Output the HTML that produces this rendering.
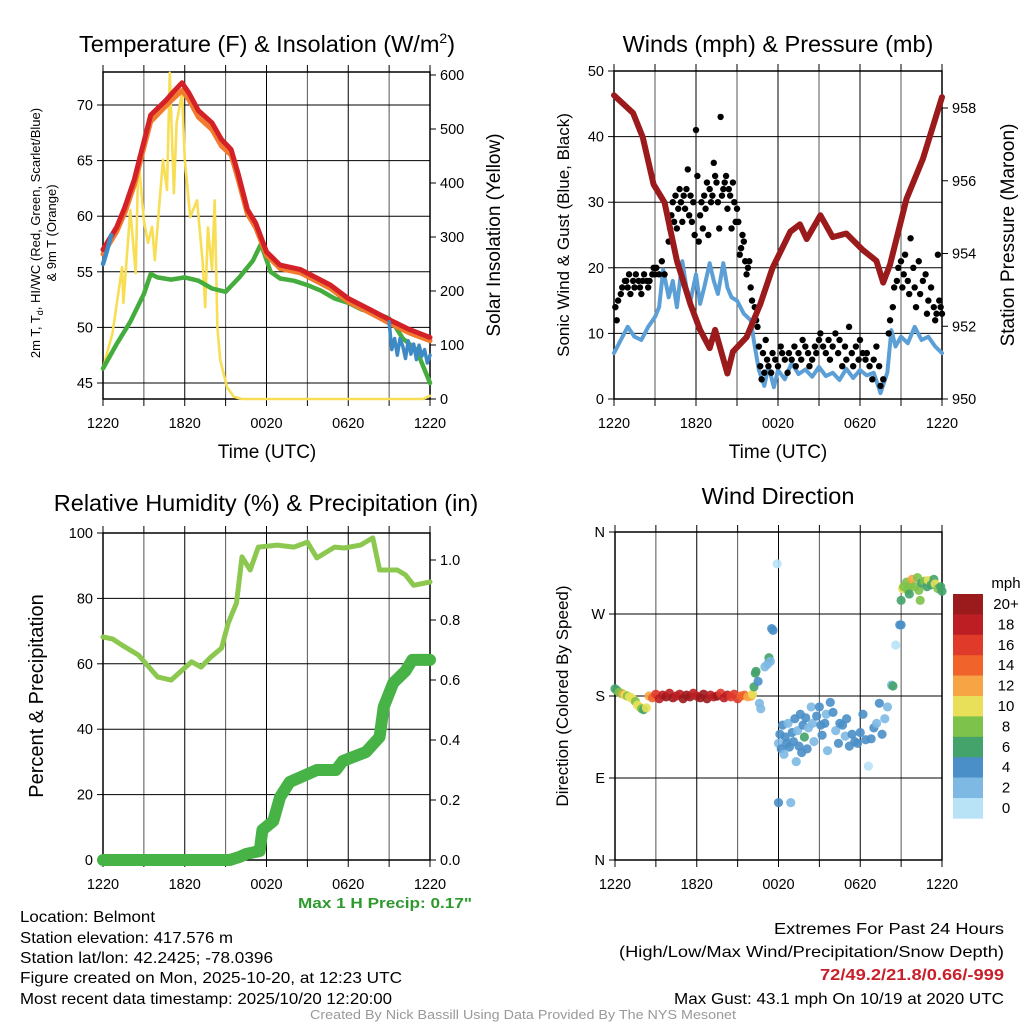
<!DOCTYPE html>
<html><head><meta charset="utf-8">
<style>
html,body{margin:0;padding:0;background:#fff;}
svg{display:block;font-family:"Liberation Sans",Arial,sans-serif;}
</style></head>
<body>
<svg id="chart" width="1024" height="1024" viewBox="0 0 1024 1024" xmlns="http://www.w3.org/2000/svg">
<rect x="0" y="0" width="1024" height="1024" fill="#fff"/>
<text x="267" y="52" font-size="23.5" text-anchor="middle">Temperature (F) &amp; Insolation (W/m<tspan dy="-9" font-size="14">2</tspan><tspan dy="9">)</tspan></text>
<text x="778" y="52" font-size="23.5" text-anchor="middle">Winds (mph) &amp; Pressure (mb)</text>
<text x="266" y="511" font-size="23.5" text-anchor="middle">Relative Humidity (%) &amp; Precipitation (in)</text>
<text x="778" y="504" font-size="23.5" text-anchor="middle">Wind Direction</text>
<g id="layer"></g>
<text x="385" y="908" font-size="15" font-weight="bold" fill="#2e9a2e" text-anchor="middle" textLength="174" lengthAdjust="spacingAndGlyphs">Max 1 H Precip: 0.17"</text>
<g font-size="16">
<text x="20" y="922" textLength="135" lengthAdjust="spacingAndGlyphs">Location: Belmont</text>
<text x="20" y="943" textLength="213" lengthAdjust="spacingAndGlyphs">Station elevation: 417.576 m</text>
<text x="20" y="963" textLength="253" lengthAdjust="spacingAndGlyphs">Station lat/lon: 42.2425; -78.0396</text>
<text x="20" y="983" textLength="382" lengthAdjust="spacingAndGlyphs">Figure created on Mon, 2025-10-20, at 12:23 UTC</text>
<text x="20" y="1004" textLength="372" lengthAdjust="spacingAndGlyphs">Most recent data timestamp: 2025/10/20 12:20:00</text>
</g>
<g font-size="16" text-anchor="end">
<text x="1004" y="934" textLength="230" lengthAdjust="spacingAndGlyphs">Extremes For Past 24 Hours</text>
<text x="1004" y="957" textLength="385" lengthAdjust="spacingAndGlyphs">(High/Low/Max Wind/Precipitation/Snow Depth)</text>
<text x="1004" y="980" fill="#c8202a" font-weight="bold" textLength="184" lengthAdjust="spacingAndGlyphs">72/49.2/21.8/0.66/-999</text>
<text x="1004" y="1004" textLength="330" lengthAdjust="spacingAndGlyphs">Max Gust: 43.1 mph On 10/19 at 2020 UTC</text>
</g>
<text x="523" y="1019" font-size="13" fill="#999" text-anchor="middle" textLength="426" lengthAdjust="spacingAndGlyphs">Created By Nick Bassill Using Data Provided By The NYS Mesonet</text>
</svg>
<script>
// ---- data (hours since 12:20 UTC) ----
const xTickLabels = ["1220","1820","0020","0620","1220"];
const tempHours = [0,1,1.6,2.3,2.9,3.5,4.6,5.1,5.8,6.3,7,8,8.7,9.4,9.9,10.6,11.2,12,13,14.5,16.7,18,19.6,21,22.5,24];
const tempRed   = [57,59,60.8,63.3,66.2,69.1,70.4,71.1,72,71.1,69.5,68.4,66.9,66,63.9,60.6,59.4,56.8,55.6,55.2,53.8,52.6,51.6,50.7,49.8,49.1];
const tempOrange= [56.6,58.6,60.3,62.8,65.7,68.5,69.9,70.5,71.3,70.5,68.9,67.8,66.3,65.5,63.4,60.2,59.0,56.5,55.3,54.9,53.5,52.3,51.3,50.4,49.5,48.8];
const dewHours = [0,1,2,3,3.5,4,5,6,7,8,9,10,11,11.6,12.3,13,14,15,16,17,18,19,20,21,21.5,22,23,24];
const dewGreen = [46.3,48.5,50.5,53,54.8,54.5,54.3,54.5,54.2,53.5,53.2,54.5,56,57.5,55,54.4,54.2,53.8,53.3,52.6,52.2,51.6,51.3,50.8,50,49,48,45];
const chillHoursA = [0,0.2,0.4,0.6];
const chillA = [55.7,56.5,57.4,58.3];
const chillHoursB = [21,21.2,21.4,21.6,21.8,22,22.2,22.4,22.6,22.8,23,23.2,23.4,23.6,23.8,24];
const chillB = [50.5,48,49,47.5,49,48.3,47.2,48.8,47.6,48.5,47.1,48.4,47.4,48,46.8,47.5];
const solarHours = [0,0.7,1.4,1.5,2,2.4,2.6,3,3.3,3.6,3.8,4.4,4.7,4.9,5.2,5.4,5.8,6,6.4,6.9,7.3,7.5,7.7,8,8.2,8.4,8.6,9.1,9.6,10.2,11,20,23.5,24];
const solarVals  = [57,122,244,178,350,233,448,331,289,319,257,443,387,604,381,511,567,443,337,368,257,170,318,239,368,133,72,22,4,0,0,0,0,6];

const presHours = [0,1.4,2.1,2.9,3.7,4.6,5.6,6.3,7,7.4,8.3,8.7,9.7,10.7,11.6,12.9,13.6,14.1,15.1,16,17,18.2,19.2,19.7,20.2,21.4,22.6,24];
const presVals  = [958.35,957.86,957.2,955.9,955.4,953.8,952.6,951.9,951.4,951.9,950.7,951.3,951.7,952.6,953.6,954.6,954.8,954.4,955.05,954.45,954.55,954.1,953.8,953.2,953.7,955.5,956.6,958.3];
const sonicHours = [0,0.5,1,1.5,2,2.5,3,3.3,3.6,4,4.3,4.6,5,5.3,5.6,6,6.3,6.6,7,7.3,7.6,8,8.3,8.6,9,9.5,10,10.3,10.6,11,11.3,11.7,12,12.5,13,13.5,14,14.5,15,15.5,16,16.5,17,17.5,18,18.5,19,19.5,20,20.3,20.6,21,21.5,22,22.5,23,23.5,24];
const sonicVals  = [7,9,11,9.5,9,11,12.5,14,19.7,15.5,18,14,21,17,15,19,14.5,17,20.7,18,16,20.7,17,15.5,15,13,12,8,4.4,2,5,1.8,4.4,3,5.5,3.8,4.5,3.4,4.9,3.5,4,2.9,4.6,3.2,4.4,3.6,4,0.9,4,10.5,8,9.5,8.5,11,9,9.5,8,7];
const gustHours = [0.1,0.2,0.3,0.5,0.6,0.8,0.9,1.0,1.1,1.2,1.4,1.5,1.6,1.8,1.9,2.0,2.1,2.2,2.4,2.5,2.6,2.8,2.9,3.0,3.1,3.3,3.5,3.7,4.0,4.1,4.2,4.3,4.4,4.5,4.6,4.7,4.8,4.9,5.0,5.1,5.2,5.3,5.4,5.5,5.6,5.7,5.8,5.9,6.0,6.1,6.2,6.3,6.4,6.5,6.6,6.7,6.8,6.9,7.0,7.1,7.2,7.3,7.4,7.5,7.6,7.7,7.8,7.9,8.0,8.1,8.2,8.3,8.4,8.5,8.6,8.7,8.8,8.9,9.0,9.1,9.2,9.3,9.4,9.5,9.6,9.7,9.8,9.9,10.0,10.1,10.3,10.4,10.5,10.6,10.7,10.8,10.9,11.0,11.1,11.2,11.3,11.5,11.6,11.8,12.0,12.2,12.3,12.5,12.7,12.8,13.0,13.2,13.3,13.5,13.7,13.8,14.0,14.2,14.3,14.5,14.7,14.8,15.0,15.1,15.3,15.5,15.7,15.8,16.0,16.2,16.4,16.5,16.7,16.9,17.0,17.2,17.4,17.5,17.7,17.9,18.0,18.2,18.4,18.5,18.7,18.9,19.0,19.2,19.4,19.5,19.7,20.1,20.2,20.4,20.5,20.7,20.8,21.0,21.1,21.2,21.3,21.5,21.6,21.7,21.9,22.0,22.1,22.3,22.4,22.6,22.8,22.9,23.0,23.2,23.4,23.5,23.6,23.7,23.8,23.9,24.0];
const gustVals  = [14,12,15,16,17,18,18,17,19,16,18,17,19,18,17,16,18,19,18,17,18,19,20,19,20,19,21,19,24,26,28,30,27,31,26,29,32,30,27,31,29,32,35,28,31,27,30,25,41,34,24,28,30,26,31,29,33,25,32,30,31,36,34,33,30,26,43,31,32,33,34,29,32,31,26,33,30,27,29,27,22,23,25,24,21,19,20,21,17,15,14,12,11,8,5,3,7,4,9,6,5,4,7,6,5,8,7,6,4,7,6,8,5,7,6,9,8,7,5,6,8,7,9,10,8,7,9,6,8,10,7,9,5,8,6,11,7,5,8,6,9,7,6,7,5,3,6,8,5,2,3,10,12,14,17,18,20,21,17,19,22,18,16,24.5,20,17,14,21,16,18,19,13,15,17,14,12,13,22,15,14,13];

const rhHours = [0,0.7,1.4,2.6,4,5,6.5,7.2,7.9,8.7,9.2,9.8,10.2,10.8,11.4,12.8,14,15,15.7,17,17.7,18.9,19.8,20.3,21.6,22.2,22.8,24];
const rhVals  = [68.2,67.6,65.7,62.7,56,55,60.6,59,62,64.8,72.5,78.6,92.7,88.7,95.7,96.3,95.7,97.2,92.4,95.7,95.4,96.3,98.5,88.7,88.7,87.2,84,85];
const precipHours = [0,9.3,10,10.5,11.5,11.7,12.5,13,13.7,15.7,17.1,17.6,19.3,20.3,20.6,21.3,22.2,22.7,24];
const precipVals  = [0,0,0.01,0.02,0.03,0.10,0.13,0.21,0.26,0.30,0.30,0.33,0.36,0.41,0.51,0.59,0.63,0.667,0.667];

const dirHours = [0,0.15,0.3,0.45,0.6,0.75,0.9,1.05,1.2,1.35,1.5,1.65,1.8,1.95,2.1,2.3,
 2.5,2.75,3,3.25,3.5,3.75,4,4.25,4.5,4.75,5,5.25,5.5,5.75,6,6.25,6.5,6.75,7,7.25,7.5,7.75,8,8.25,8.5,8.75,9,9.25,9.5,9.75,10,
 10.1,10.2,10.3,10.35,10.5,10.6,10.7,11.0,11.2,11.3,11.4,11.5,11.6,11.9,
 12.0,12.0,12.1,12.2,12.3,12.4,12.5,12.6,12.7,12.8,12.9,13.0,13.1,13.2,13.3,13.4,13.5,13.6,13.7,13.8,13.9,14.0,14.1,14.2,14.4,14.5,14.6,14.8,15.0,15.1,15.2,15.4,15.5,15.6,15.8,16.0,16.2,16.4,16.5,16.7,16.9,17.0,17.2,17.4,17.6,17.8,18.0,18.2,18.4,18.6,18.8,19.0,19.2,19.4,19.6,19.8,20.0,
 20.3,20.4,20.6,20.9,21.0,
 21.0,21.1,21.2,21.4,21.5,21.6,21.7,21.8,22.0,22.2,22.3,22.4,22.5,22.7,22.9,23.0,23.2,23.4,23.5,23.7,23.9,24.0];
const dirVals = [188,186,184,183,182,181,180,179,178,176,174,170,168,166,165,167,
 180,178,182,177,181,179,183,178,180,182,177,181,179,183,180,178,182,177,181,179,180,183,178,181,179,182,177,180,181,179,180,
 182,190,205,207,196,172,166,212,215,222,218,254,252,325,
 128,63,138,122,148,116,135,128,150,124,63,140,130,155,108,142,125,160,118,148,135,156,122,145,168,150,130,158,168,148,137,150,160,120,173,162,142,128,150,148,136,155,125,138,130,128,140,160,132,103,133,145,150,172,138,155,168,
 192,191,236,258,258,
 285,298,300,305,296,292,302,308,300,310,296,285,304,306,300,307,302,308,303,298,300,295];
const dirSpeeds = [6,7,9,8,12,10,9,11,10,10,9,10,10,9,7,11,
 13,14,17,19,18,20,19,21,18,19,20,21,22,19,18,20,21,22,19,18,20,17,19,18,17,16,17,15,14,13,13,
 10,7,6,6,4,2,2,2,3,6,2,4,4,0,
 2,4,4,4,4,2,4,4,2,4,2,4,4,4,2,2,4,4,4,4,6,4,4,2,2,2,2,4,4,4,4,4,2,2,4,4,2,4,4,4,2,4,4,4,4,4,4,4,4,0,4,4,2,4,4,2,2,
 2,6,0,4,4,
 6,10,8,8,8,6,8,12,8,8,8,8,6,8,6,10,6,6,10,8,6,6];
const speedLabels = ["20+","18","16","14","12","10","8","6","4","2","0"];
const speedColors = ["#9b1a1c","#bd1e24","#e03a2b","#f0632a","#f7a544","#e8e058","#7dc24a","#44a36a","#4a8fc8","#7db9e3","#b8e3f7"];

// ---- helpers ----
const NS="http://www.w3.org/2000/svg";
const layer=document.getElementById('layer');
function mk(tag,attrs,parent){const e=document.createElementNS(NS,tag);for(const k in attrs)e.setAttribute(k,attrs[k]);(parent||layer).appendChild(e);return e;}
function lin(d0,d1,r0,r1){return v=>r0+(v-d0)*(r1-r0)/(d1-d0);}

function panelFrame(P,name){
  const g=mk('g',{});
  
  
  for(let h=0;h<=24;h+=3){
    const x=P.sx(h);
    const l=mk('line',{x1:x,y1:P.top,x2:x,y2:P.bot,stroke:(h%6===0)?'#000':'#555','stroke-width':1},g);
    
    
    mk('line',{x1:x,y1:P.bot,x2:x,y2:P.bot+7,stroke:'#000','stroke-width':1},g);
    mk('line',{x1:x,y1:P.top,x2:x,y2:P.top-7,stroke:'#000','stroke-width':1},g);
  }
  for(let i=0;i<xTickLabels.length;i++){
    const t=mk('text',{x:P.sx(i*6),y:P.bot+29,'font-size':14.5,'text-anchor':'middle'},g);
    
    
    t.textContent=xTickLabels[i];
  }
  return g;
}
function frameBox(P,g){
  mk('rect',{x:P.left,y:P.top,width:P.right-P.left,height:P.bot-P.top,fill:'none',stroke:'#000','stroke-width':1.5},g);
}
function hgrid(P,g,vals,scale){
  vals.forEach((v)=>{
    const y=scale(v);
    if(y>=P.top-0.5&&y<=P.bot+0.5){
      const l=mk('line',{x1:P.left,y1:y,x2:P.right,y2:y,stroke:'#000','stroke-width':1},g);
      
      
    }
  });
}
function ticksY(P,g,vals,scale,labels,side,name){
  vals.forEach((v,i)=>{
    const y=scale(v);
    if(side==='left'){
      mk('line',{x1:P.left-6,y1:y,x2:P.left,y2:y,stroke:'#000'},g);
    } else {
      mk('line',{x1:P.right,y1:y,x2:P.right+6,y2:y,stroke:'#000'},g);
    }
    const t=mk('text',{x:side==='left'?P.left-10:P.right+10,y:y+5,'font-size':14.5,'text-anchor':side==='left'?'end':'start'},g);
    
    
    t.textContent=labels[i];
  });
}
function pathOf(xs,ys,sx,sy){return xs.map((h,i)=>(i?'L':'M')+sx(h).toFixed(1)+','+sy(ys[i]).toFixed(1)).join(' ');}
function line(xs,ys,sx,sy,color,w,name){
  const p=mk('path',{d:pathOf(xs,ys,sx,sy),fill:'none',stroke:color,'stroke-width':w,'stroke-linejoin':'round','stroke-linecap':'round'});
  
  
  return p;
}
function vlabel(x,y,txt,size,name){
  const t=mk('text',{x:x,y:y,'font-size':size,'text-anchor':'middle',transform:`rotate(-90 ${x} ${y})`});
  
  
  t.textContent=txt;return t;
}
function hlabel(x,y,txt,size,name){
  const t=mk('text',{x:x,y:y,'font-size':size,'text-anchor':'middle'});
  
  
  t.textContent=txt;return t;
}

// ---- Panel 1: temperature ----
const P1={left:103,right:430,top:72,bot:399};
P1.sx=lin(0,24,P1.left,P1.right);
const tY=lin(45,70,383,105);
const sY=lin(0,600,399,75);
let g1=panelFrame(P1,'temperature');
hgrid(P1,g1,[45,50,55,60,65,70],tY);
ticksY(P1,g1,[45,50,55,60,65,70],tY,["45","50","55","60","65","70"],'left','temperature-tick-label');
ticksY(P1,g1,[0,100,200,300,400,500,600],sY,["0","100","200","300","400","500","600"],'right','solar-tick-label');
line(solarHours,solarVals,P1.sx,sY,'#f7de55',2.6,'solar-insolation-line');
line(dewHours,dewGreen,P1.sx,tY,'#44ad3d',4.5,'dewpoint-line');
line(tempHours,tempOrange,P1.sx,tY,'#f27a2e',5,'nine-meter-temp-line');
line(tempHours,tempRed,P1.sx,tY,'#d42027',5,'two-meter-temp-line');
line(chillHoursA,chillA,P1.sx,tY,'#3d8ac6',4.5,'windchill-line-start');
line(chillHoursB,chillB,P1.sx,tY,'#3d8ac6',3.5,'windchill-line-end');
frameBox(P1,g1);
const yl=vlabel(40,233,'',13,'temperature-axis-title');
yl.innerHTML='2m T, T<tspan font-size="9" dy="3">d</tspan><tspan dy="-3">, HI/WC (Red, Green, Scarlet/Blue)</tspan>';
vlabel(56,233,'& 9m T (Orange)',13,'temperature-axis-title-line2');
vlabel(500,235,'Solar Insolation (Yellow)',19,'solar-axis-title');
hlabel(267,458,'Time (UTC)',19,'x-axis-title');

// ---- Panel 2: winds & pressure ----
const P2={left:614,right:942,top:71,bot:399};
P2.sx=lin(0,24,P2.left,P2.right);
const wY=lin(0,50,399,71);
const pY=lin(950,958,399,108);
let g2=panelFrame(P2,'wind');
hgrid(P2,g2,[0,10,20,30,40,50],wY);
ticksY(P2,g2,[0,10,20,30,40,50],wY,["0","10","20","30","40","50"],'left','wind-tick-label');
ticksY(P2,g2,[950,952,954,956,958],pY,["950","952","954","956","958"],'right','pressure-tick-label');
line(sonicHours,sonicVals,P2.sx,wY,'#5b9fd6',4,'sonic-wind-line');
gustHours.forEach((h,i)=>{
  const c=mk('circle',{cx:P2.sx(h),cy:wY(gustVals[i]),r:3.2,fill:'#000'});
  
  
});
line(presHours,presVals,P2.sx,pY,'#9b1a1c',6,'pressure-line');
frameBox(P2,g2);
vlabel(569,235,'Sonic Wind & Gust (Blue, Black)',17,'wind-axis-title');
vlabel(1014,235,'Station Pressure (Maroon)',19,'pressure-axis-title');
hlabel(778,458,'Time (UTC)',19,'x-axis-title');

// ---- Panel 3: humidity & precip ----
const P3={left:103,right:430,top:533,bot:860};
P3.sx=lin(0,24,P3.left,P3.right);
const rY=lin(0,100,860,533);
const qY=lin(0,1,860,560);
let g3=panelFrame(P3,'humidity');
hgrid(P3,g3,[0,20,40,60,80,100],rY);
ticksY(P3,g3,[0,20,40,60,80,100],rY,["0","20","40","60","80","100"],'left','humidity-tick-label');
ticksY(P3,g3,[0,0.2,0.4,0.6,0.8,1.0],qY,["0.0","0.2","0.4","0.6","0.8","1.0"],'right','precip-tick-label');
line(rhHours,rhVals,P3.sx,rY,'#8cc84f',5,'relative-humidity-line');
line(precipHours,precipVals,P3.sx,qY,'#47b347',12,'precipitation-line');
frameBox(P3,g3);
vlabel(43,696,'Percent & Precipitation',20,'humidity-axis-title');

// ---- Panel 4: wind direction ----
const P4={left:615,right:942,top:532,bot:860};
P4.sx=lin(0,24,P4.left,P4.right);
const dY=lin(0,360,860,532);
let g4=panelFrame(P4,'direction');
hgrid(P4,g4,[0,90,180,270,360],dY);
ticksY(P4,g4,[0,90,180,270,360],dY,["N","E","S","W","N"],'left','direction-tick-label');
function speedColor(s){let idx=Math.min(10,Math.floor(s/2));return speedColors[10-idx];}
dirHours.forEach((h,i)=>{
  const c=mk('circle',{cx:P4.sx(h),cy:dY(dirVals[i]),r:4.6,fill:speedColor(dirSpeeds[i]),'fill-opacity':0.9});
  
  
});
frameBox(P4,g4);
vlabel(568,696,'Direction (Colored By Speed)',17,'direction-axis-title');
const cb=mk('g',{});


const cbTop=594,cbH=20.4;
hlabel(1006,588,'mph',15,'colorbar-title');
speedLabels.forEach((lab,i)=>{
  const r=mk('rect',{x:953,y:cbTop+i*cbH,width:30,height:cbH+0.3,fill:speedColors[i]},cb);
  
  
  const t=mk('text',{x:1006,y:cbTop+i*cbH+15,'font-size':15,'text-anchor':'middle'},cb);
  
  
  t.textContent=lab;
});
</script>
</body></html>
